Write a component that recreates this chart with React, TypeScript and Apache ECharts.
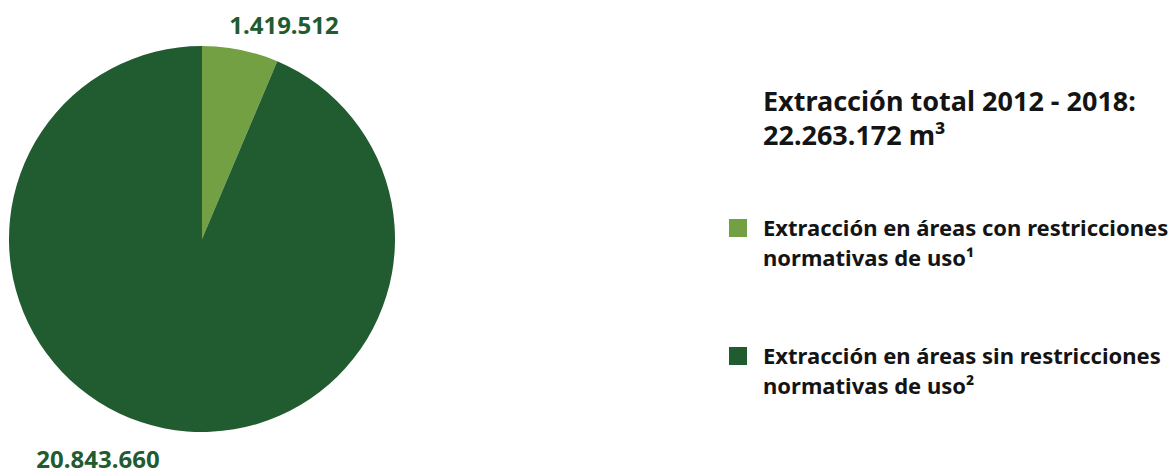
import React, { useEffect, useRef } from "react";
import * as echarts from "echarts";

const categories = [
  "Extracción en áreas con restricciones\nnormativas de uso¹",
  "Extracción en áreas sin restricciones\nnormativas de uso²",
];
const values = [1419512, 20843660];
const valueLabels = ["1.419.512", "20.843.660"];
const colors = ["#72a043", "#215b30"];
const titleLines = ["Extracción total 2012 - 2018:", "22.263.172 m³"];

const FONT = "'Noto Sans', sans-serif";

export default function App() {
  const ref = useRef<HTMLDivElement>(null);
  useEffect(() => {
    if (!ref.current) return;
    const chart = echarts.init(ref.current, null, { renderer: "svg" });
    const labelPos = [
      { x: 284, y: 24 },
      { x: 98, y: 458 },
    ];
    const legendTops = [219, 347];
    chart.setOption({
      animation: false,
      series: [
        {
          type: "pie",
          center: [202, 239],
          radius: [0, 193],
          startAngle: 90,
          clockwise: true,
          silent: true,
          data: values.map((v, i) => ({
            value: v,
            name: categories[i],
            itemStyle: { color: colors[i] },
            label: { formatter: valueLabels[i] },
          })),
          label: {
            show: true,
            position: "outside",
            color: "#215b30",
            fontFamily: FONT,
            fontWeight: "bold",
            fontSize: 24,
            lineHeight: 22,
            overflow: "none",
            width: 200,
          },
          labelLine: { show: false },
          labelLayout: (p: any) => ({
            x: labelPos[p.dataIndex].x,
            y: labelPos[p.dataIndex].y,
            align: "center",
            verticalAlign: "middle",
          }),
        },
      ],
      graphic: [
        {
          type: "text",
          left: 763,
          top: 83,
          style: {
            text: titleLines.join("\n"),
            font: `bold 27px ${FONT}`,
            fill: "#141414",
            lineHeight: 34,
          },
        },
        ...categories.flatMap((c, i) => [
          {
            type: "rect",
            left: 729,
            top: legendTops[i],
            shape: { width: 18, height: 18 },
            style: { fill: colors[i] },
          },
          {
            type: "text",
            left: 763,
            top: legendTops[i] - 7,
            style: {
              text: c,
              font: `bold 22px ${FONT}`,
              fill: "#141414",
              lineHeight: 30,
            },
          },
        ]),
      ],
    });
    return () => chart.dispose();
  }, []);
  return (
    <div
      ref={ref}
      style={{ position: "absolute", left: 0, top: 0, width: 1169, height: 475, background: "#fff" }}
    />
  );
}
